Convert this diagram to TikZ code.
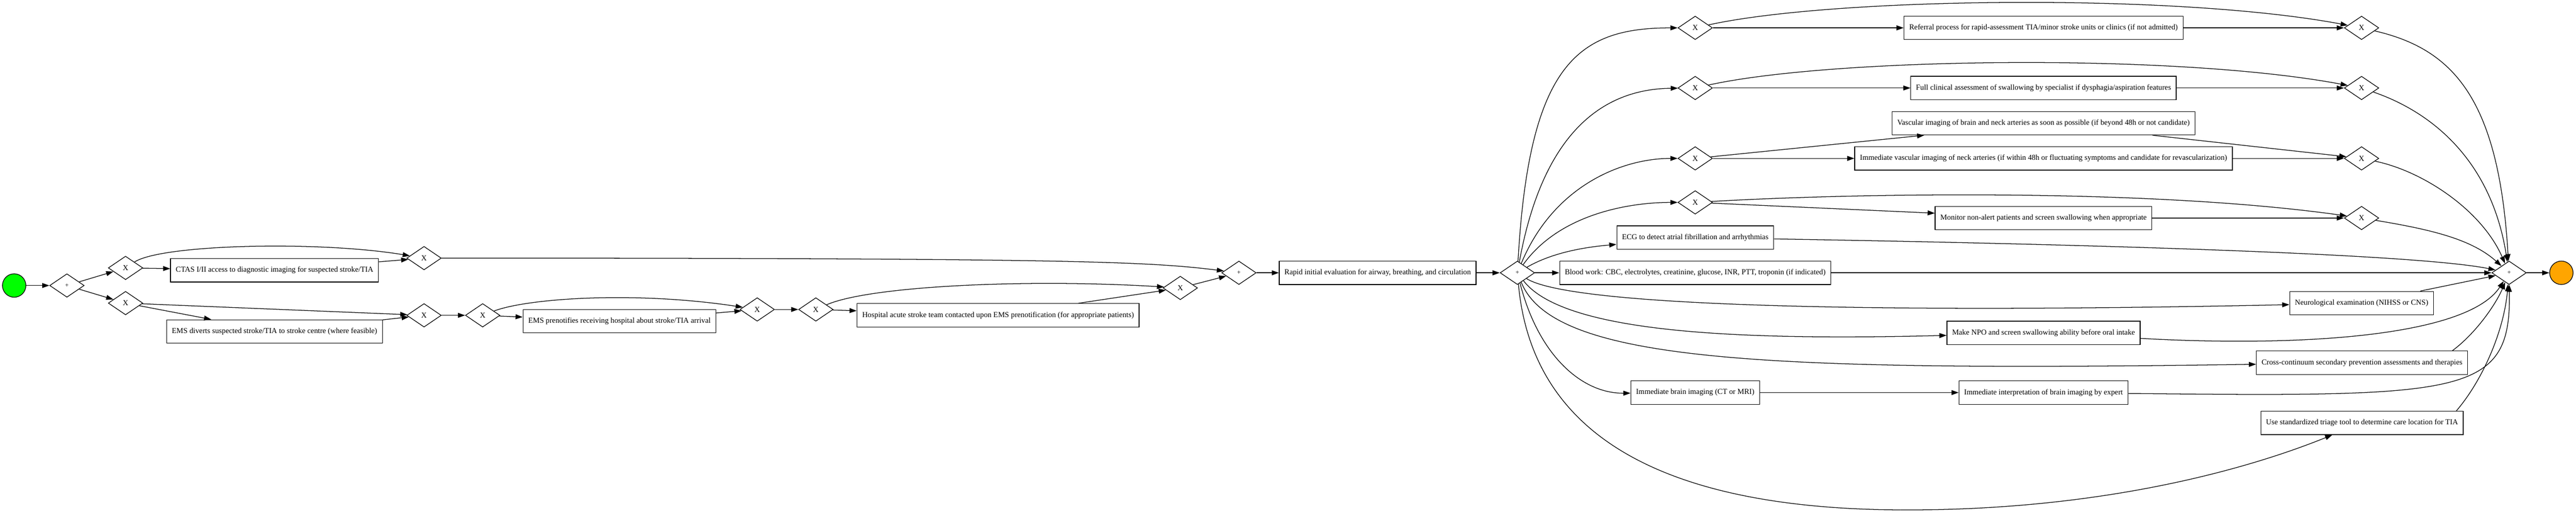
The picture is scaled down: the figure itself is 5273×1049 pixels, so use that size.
\documentclass[tikz,border=0pt]{standalone}
\usepackage{fontspec}
\setmainfont{Liberation Serif}
\usetikzlibrary{shapes.geometric,arrows.meta}
\definecolor{startgreen}{HTML}{00FF00}
\definecolor{endorange}{HTML}{FFA500}
\begin{document}
\begin{tikzpicture}[x=0.75pt,y=-0.75pt,
  every node/.style={font=\fontsize{11.7}{14}\selectfont},
  task/.style={rectangle,draw,line width=1pt,minimum height=36pt,inner xsep=8pt,inner ysep=0pt},
  gate/.style={diamond,draw,line width=1pt,minimum width=53pt,minimum height=36pt,inner sep=0pt},
  plus/.style={gate,font=\fontsize{10}{12}\selectfont},
  event/.style={circle,draw,line width=1pt,minimum size=36pt,inner sep=0pt},
  flow/.style={line width=1pt,-{Triangle[length=11pt,width=7.5pt]}}]
\useasboundingbox (0,0) rectangle (5273,1049);

% events
\node[event,fill=startgreen] (start) at (29,584) {};
\node[event,fill=endorange] (finish) at (5243,558) {};

% gateways
\node[plus] (g1) at (137,584) {+};
\node[gate] (x1) at (257,548) {X};
\node[gate] (x2) at (257,620) {X};
\node[gate] (x3) at (868,528) {X};
\node[gate] (x4) at (868,645) {X};
\node[gate] (x5) at (988,645) {X};
\node[gate] (x6) at (1550,633) {X};
\node[gate] (x7) at (1670,633) {X};
\node[gate] (x8) at (2416,589) {X};
\node[plus] (g2) at (2536,558) {+};
\node[plus] (g3) at (3106,558) {+};
\node[gate] (x9) at (3470,57) {X};
\node[gate] (x10) at (3470,180) {X};
\node[gate] (x11) at (3470,324) {X};
\node[gate] (x15) at (3470,414) {X};
\node[gate] (x12) at (4834,57) {X};
\node[gate] (x13) at (4834,180) {X};
\node[gate] (x14) at (4834,324) {X};
\node[gate] (x16) at (4834,446) {X};
\node[plus] (g4) at (5136,558) {+};

% tasks
\node[task] (ctas) at (562,553) {CTAS I/II access to diagnostic imaging for suspected stroke/TIA};
\node[task] (emsdiv) at (562,678) {EMS diverts suspected stroke/TIA to stroke centre (where feasible)};
\node[task] (emspre) at (1268,657) {EMS prenotifies receiving hospital about stroke/TIA arrival};
\node[task] (hosp) at (2043,645) {Hospital acute stroke team contacted upon EMS prenotification (for appropriate patients)};
\node[task] (rapid) at (2820,558) {Rapid initial evaluation for airway, breathing, and circulation};
\node[task] (referral) at (4183,57) {Referral process for rapid-assessment TIA/minor stroke units or clinics (if not admitted)};
\node[task] (full) at (4183,180) {Full clinical assessment of swallowing by specialist if dysphagia/aspiration features};
\node[task] (vasc48) at (4183,252) {Vascular imaging of brain and neck arteries as soon as possible (if beyond 48h or not candidate)};
\node[task] (immvasc) at (4183,324) {Immediate vascular imaging of neck arteries (if within 48h or fluctuating symptoms and candidate for revascularization)};
\node[task] (monitor) at (4183,446) {Monitor non-alert patients and screen swallowing when appropriate};
\node[task] (ecg) at (3470,486) {ECG to detect atrial fibrillation and arrhythmias};
\node[task] (blood) at (3470,558) {Blood work: CBC, electrolytes, creatinine, glucose, INR, PTT, troponin (if indicated)};
\node[task] (neuro) at (4834,620) {Neurological examination (NIHSS or CNS)};
\node[task] (npo) at (4183,681) {Make NPO and screen swallowing ability before oral intake};
\node[task] (cross) at (4835,742) {Cross-continuum secondary prevention assessments and therapies};
\node[task] (brain) at (3470,803) {Immediate brain imaging (CT or MRI)};
\node[task] (interp) at (4183,803) {Immediate interpretation of brain imaging by expert};
\node[task] (usestd) at (4835,865) {Use standardized triage tool to determine care location for TIA};
\coordinate (ubot) at (3890,1043);

% flows: pre-hospital part
\draw[flow] (start) -- (g1);
\draw[flow] (g1) -- (x1);
\draw[flow] (g1) -- (x2);
\draw[flow] (x1) -- (ctas);
\draw[flow] (x1) .. controls (330,500) and (650,492) .. (x3);
\draw[flow] (ctas) -- (x3);
\draw[flow] (x2) -- (emsdiv);
\draw[flow] (x2) -- (x4);
\draw[flow] (emsdiv) -- (x4);
\draw[flow] (x3) .. controls (2200,528) and (2350,535) .. (g2);
\draw[flow] (x4) -- (x5);
\draw[flow] (x5) -- (emspre);
\draw[flow] (x5) .. controls (1080,610) and (1300,595) .. (x6);
\draw[flow] (emspre) -- (x6);
\draw[flow] (x6) -- (x7);
\draw[flow] (x7) -- (hosp);
\draw[flow] (x7) .. controls (1780,585) and (2100,570) .. (x8);
\draw[flow] (hosp) -- (x8);
\draw[flow] (x8) -- (g2);
\draw[flow] (g2) -- (rapid);
\draw[flow] (rapid) -- (g3);

% flows: fan out
\draw[flow] (g3) .. controls (3130,130) and (3230,57) .. (x9);
\draw[flow] (g3) .. controls (3160,260) and (3290,182) .. (x10);
\draw[flow] (g3) .. controls (3180,380) and (3320,324) .. (x11);
\draw[flow] (g3) .. controls (3190,440) and (3330,414) .. (x15);
\draw[flow] (g3) .. controls (3180,515) and (3250,505) .. (ecg);
\draw[flow] (g3) -- (blood);
\draw[flow] (g3) .. controls (3220,630) and (3900,640) .. (neuro);
\draw[flow] (g3) .. controls (3200,680) and (3550,697) .. (npo);
\draw[flow] (g3) .. controls (3180,740) and (3600,760) .. (cross);
\draw[flow] (g3) .. controls (3150,730) and (3240,805) .. (brain);
\draw[line width=1pt] (g3) .. controls (3130,820) and (3300,1040) .. (ubot);
\draw[flow] (ubot) .. controls (4300,1045) and (4600,960) .. (usestd);

% branches
\draw[flow] (x9) -- (referral);
\draw[flow] (x9) .. controls (3750,-5) and (4450,-15) .. (x12);
\draw[flow] (referral) -- (x12);
\draw[flow] (x10) -- (full);
\draw[flow] (x10) .. controls (3750,118) and (4450,108) .. (x13);
\draw[flow] (full) -- (x13);
\draw[flow] (x11) -- (vasc48);
\draw[flow] (x11) -- (immvasc);
\draw[flow] (vasc48) -- (x14);
\draw[flow] (immvasc) -- (x14);
\draw[flow] (x15) -- (monitor);
\draw[flow] (x15) .. controls (3800,395) and (4400,385) .. (x16);
\draw[flow] (monitor) -- (x16);
\draw[flow] (brain) -- (interp);

% join
\draw[flow] (x12) .. controls (5020,100) and (5115,200) .. (g4);
\draw[flow] (x13) .. controls (4980,230) and (5100,330) .. (g4);
\draw[flow] (x14) .. controls (4960,350) and (5080,430) .. (g4);
\draw[flow] (x16) .. controls (4980,470) and (5060,490) .. (g4);
\draw[flow] (ecg) .. controls (4300,500) and (4950,520) .. (g4);
\draw[flow] (blood) -- (g4);
\draw[flow] (neuro) -- (g4);
\draw[flow] (npo) .. controls (4700,710) and (5050,690) .. (g4);
\draw[flow] ([xshift=-24pt]cross.north east) .. controls (5070,680) and (5110,620) .. (g4);
\draw[flow] (interp) .. controls (5050,812) and (5140,810) .. (g4);
\draw[flow] ([xshift=-11pt]usestd.north east) .. controls (5080,780) and (5125,680) .. (g4);
\draw[flow] (g4) -- (finish);
\end{tikzpicture}
\end{document}
